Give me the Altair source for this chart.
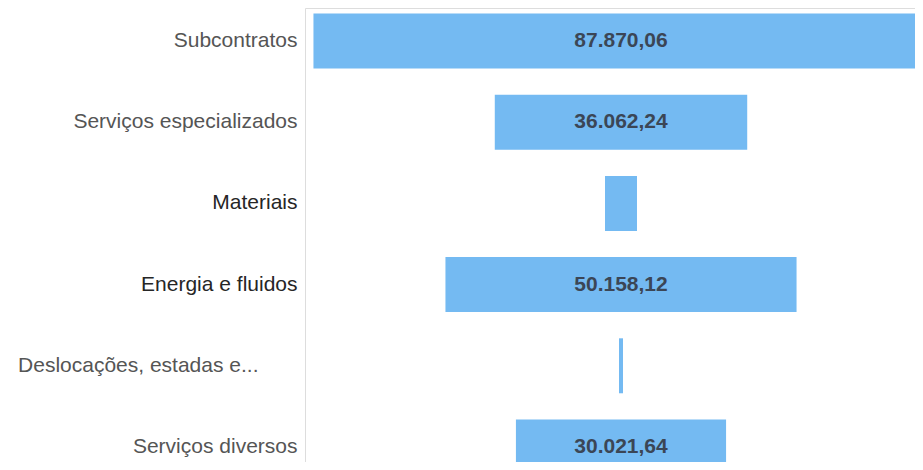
import altair as alt
import pandas as pd

categories = [
    "Subcontratos",
    "Serviços especializados",
    "Materiais",
    "Energia e fluidos",
    "Deslocações, estadas e...",
    "Serviços diversos",
]
values = [87870.06, 36062.24, 4570.0, 50158.12, 580.0, 30021.64]

df = pd.DataFrame({"categoria": categories, "valor": values})

y_enc = alt.Y(
    "categoria:N",
    sort=categories,
    title=None,
    scale=alt.Scale(paddingInner=0.323, paddingOuter=0.068, range=[0, 472]),
    axis=alt.Axis(
        ticks=False,
        domain=False,
        grid=False,
        domainColor="transparent",
        labelPadding={"condition": {"test": "indexof(datum.label, '...') > 0", "value": 47}, "value": 8},
        labelFontSize=21,
        labelFont="Liberation Sans",
        labelColor={"condition": {"test": "datum.label == 'Materiais' || datum.label == 'Energia e fluidos'", "value": "#262626"}, "value": "#555555"},
        labelLimit=400,
    ),
)

base = alt.Chart(df).transform_calculate(
    x0="-datum.valor / 2", x1="datum.valor / 2", centro="0"
).encode(y=y_enc)

xscale = alt.Scale(domain=[-45143, 42000], nice=False, zero=False)

bars = base.mark_bar(color="#74baf2", clip=True).encode(
    x=alt.X("x0:Q", scale=xscale, axis=None),
    x2="x1:Q",
)

text = (
    base.transform_filter("datum.valor > 10000")
    .transform_calculate(
        rotulo="replace(replace(replace(format(datum.valor, ',.2f'), regexp(',', 'g'), '_'), regexp('[.]', 'g'), ','), regexp('_', 'g'), '.')"
    )
    .mark_text(
        font="Liberation Sans",
        fontSize=21,
        fontWeight="bold",
        color="#3b4656",
        align="center",
        baseline="middle",
    )
    .encode(x=alt.X("centro:Q", scale=xscale, axis=None), text="rotulo:N")
)

chart = (
    alt.layer(bars, text)
    .properties(
        width=610,
        height=454,
        autosize=alt.AutoSizeParams(type="none"),
        padding={"left": 297, "top": 0, "right": 0, "bottom": 0},
    )
    .configure_view(stroke="transparent", strokeWidth=0)
    .configure_axis(domain=False, grid=False, ticks=False, domainColor="transparent")
    .configure(background="white")
)

chart.save("out.html", embed_options={"renderer": "svg", "actions": False})
